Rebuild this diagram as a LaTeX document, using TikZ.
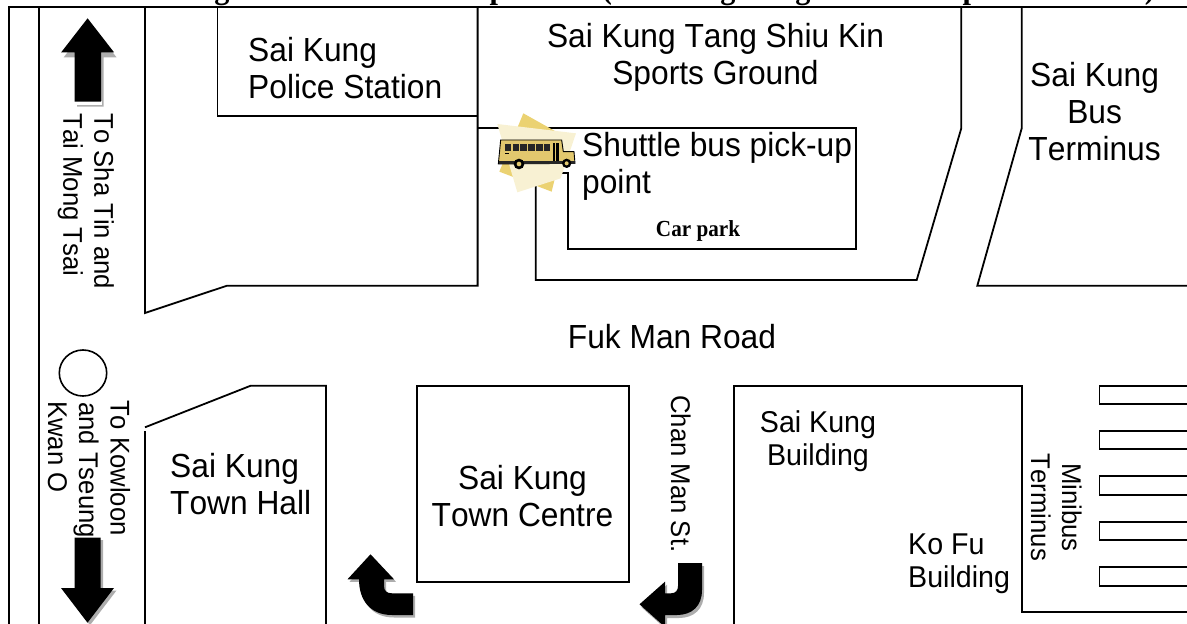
\documentclass[tikz,border=0pt]{standalone}
\usepackage{fontspec}
\setmainfont[FakeStretch=0.95,Kerning=Off]{Liberation Sans}
\newfontfamily\timesfont[FakeStretch=0.92]{Liberation Serif}
\definecolor{palestar}{HTML}{F8F1D3}
\definecolor{goldstar}{HTML}{EBD272}
\definecolor{busbody}{HTML}{E2C86E}
\tikzset{
  road/.style={draw=black,line width=1.8pt,line join=miter},
  big/.style={inner sep=0pt,font=\fontsize{33.4}{36.7}\selectfont},
  mid/.style={inner sep=0pt,font=\fontsize{30.1}{33}\selectfont},
  small/.style={inner sep=0pt,font=\fontsize{27.05}{31}\selectfont,rotate=-90},
  titlebit/.style={inner sep=0pt,anchor=base,font=\timesfont\bfseries\fontsize{33}{36}\selectfont},
  shade/.style={fill=black!32,draw=none},
  solid arrow/.style={fill=black,draw=none},
}
\begin{document}
\begin{tikzpicture}[x=1pt,y=-1pt]
\useasboundingbox (0,0) rectangle (1187,624);
\clip (0,0) rectangle (1187,624);
% clipped title descenders
\node[titlebit] (t1) at (222,-2) {g};
\node[titlebit] (t2) at (498,-2) {p};
\node[titlebit] (t3) at (607,-2) {(};
\node[titlebit] (t4) at (728,-2) {g};
\node[titlebit] (t5) at (803,-2) {g};
\node[titlebit] (t6) at (971,-2) {p};
\node[titlebit] (t7) at (1150,-2) {)};
% frame and roads
\draw[road] (9.2,630) -- (9.2,7) -- (1190,7);
\draw[road] (38.7,7) -- (38.7,630);
\draw[road] (145,7) -- (145,313) -- (227,285.7) -- (477.6,285.7) -- (477.6,7);
\draw[road] (217.4,7) -- (217.4,116.3) -- (477.6,116.3);
\draw[road] (477.6,128) -- (855.8,128) -- (855.8,249.3) -- (568.3,249.3) -- (568.3,173) -- (560,173);
\draw[road] (535.8,185) -- (535.8,280) -- (916.7,280) -- (961.3,128.3) -- (961.3,7);
\draw[road] (1021.8,7) -- (1021.8,128) -- (977.3,285.7) -- (1190,285.7);
\draw[road] (145,431) -- (145,630);
\draw[road] (145,427.3) -- (250.7,385.7) -- (326,385.7) -- (326,630);
\draw[road] (416.8,385.7) rectangle (629.2,582);
\draw[road] (734.3,630) -- (734.3,385.7) -- (1021.8,385.7) -- (1021.8,612.3) -- (1190,612.3);
\foreach \a/\b in {385.7/404.3,431/449.3,476/494.7,521.7/540.3,566.7/585.7}
  \draw[road] (1192,\a) -- (1099.5,\a) -- (1099.5,\b) -- (1192,\b);
\draw[line width=1.6pt] (83,373) ellipse [x radius=23.7,y radius=23];
% up arrow
\path[shade,shift={(2.5,5)}] (87.6,18.3) -- (114,52.3) -- (101,52.3) -- (101,101.7) -- (74.6,101.7) -- (74.6,52.3) -- (61.2,52.3) -- cycle;
\fill[white] (74.6,101) rectangle (102,105);
\path[solid arrow] (87.6,18.3) -- (114,52.3) -- (101,52.3) -- (101,101.7) -- (74.6,101.7) -- (74.6,52.3) -- (61.2,52.3) -- cycle;
% down arrow
\path[shade,shift={(2.5,2.5)}] (87.5,622.7) -- (114,588) -- (100.7,588) -- (100.7,537.7) -- (74.7,537.7) -- (74.7,588) -- (61,588) -- cycle;
\path[solid arrow] (87.5,622.7) -- (114,588) -- (100.7,588) -- (100.7,537.7) -- (74.7,537.7) -- (74.7,588) -- (61,588) -- cycle;
% bent arrow left
\path[shade,shift={(2,2.5)}] (370.5,554.3) -- (394,579.3) -- (384,579.3) -- (384,586) .. controls (384,591) and (387,593.3) .. (392,593.3) -- (413,593.3) -- (413,615) -- (392,615) .. controls (370,615) and (359,600) .. (359,579.3) -- (347.5,579.3) -- cycle;
\path[solid arrow] (370.5,554.3) -- (394,579.3) -- (384,579.3) -- (384,586) .. controls (384,591) and (387,593.3) .. (392,593.3) -- (413,593.3) -- (413,615) -- (392,615) .. controls (370,615) and (359,600) .. (359,579.3) -- (347.5,579.3) -- cycle;
% bent arrow right
\path[shade,shift={(2,3)}] (678,563) -- (702,563) -- (702,590) .. controls (702,606) and (692,615) .. (677,615) -- (665,615) -- (665,627) -- (639.5,604.3) -- (665,581.7) -- (665,593.3) -- (671,593.3) .. controls (676,593.3) and (678,590) .. (678,586) -- cycle;
\path[solid arrow] (678,563) -- (702,563) -- (702,590) .. controls (702,606) and (692,615) .. (677,615) -- (665,615) -- (665,627) -- (639.5,604.3) -- (665,581.7) -- (665,593.3) -- (671,593.3) .. controls (676,593.3) and (678,590) .. (678,586) -- cycle;
% bus clip-art
\begin{scope}[shift={(470,100)},x=0.3333pt,y=-0.3333pt]
\fill[goldstar] (160,40) -- (285,110) -- (245,275) -- (88,215) -- cycle;
\fill[palestar] (82,72) -- (318,100) -- (272,235) -- (142,277) -- cycle;
\draw[line width=0.9pt,fill=busbody] (92,120) -- (275,120) -- (280,155) -- (312,155) -- (315,190) -- (85,192) -- cycle;
\fill[black!85] (88,182) rectangle (316,192);
\foreach \l/\r in {105/122,128/147,151/170,175/195,199/218,222/241}
  \fill[black!85] (\l,133) rectangle (\r,153);
\fill[black] (248,130) rectangle (254,184);
\fill[black] (259,130) rectangle (266,184);
\fill[black] (105,158) rectangle (116,161);
\fill[black] (147,192) circle [radius=16];
\fill[busbody] (147,192) circle [radius=7];
\fill[black] (290,190) circle [radius=14];
\fill[busbody] (290,190) circle [radius=6];
\end{scope}
% labels
\node[big,align=left,anchor=base west] (police) at (248,98.3) {Sai Kung\\Police Station};
\node[big,align=center,anchor=base] (sports) at (715.5,84) {Sai Kung Tang Shiu Kin\\Sports Ground};
\node[big,align=center,anchor=base] (busterm) at (1094.6,160) {Sai Kung\\Bus\\Terminus};
\node[big,align=left,anchor=base west] (pickup) at (582,193.3) {Shuttle bus pick-up\\point};
\node[inner sep=0pt,anchor=base,font=\timesfont\bfseries\fontsize{23}{24}\selectfont] (carpark) at (698,236) {Car park};
\node[big,anchor=base] (fuk) at (672,348.5) {Fuk Man Road};
\node[big,align=left,anchor=base west] (hall) at (170,514) {Sai Kung\\Town Hall};
\node[big,align=center,anchor=base] (centre) at (522.5,526.5) {Sai Kung\\Town Centre};
\node[mid,align=center,anchor=base] (skb) at (818,465.5) {Sai Kung\\Building};
\node[mid,align=left,anchor=base west] (kofu) at (908,587.8) {Ko Fu\\Building};
\node[small,anchor=base west] (sha1) at (94.3,113.3) {To Sha Tin and};
\node[small,anchor=base west] (sha2) at (63.3,113.3) {Tai Mong Tsai};
\node[small,anchor=base west] (kow1) at (110.5,400) {To Kowloon};
\node[small,anchor=base west] (kow2) at (79,402) {and Tseung};
\node[small,anchor=base west] (kow3) at (48,401) {Kwan O};
\node[small,anchor=base west] (chan) at (671,395) {Chan Man St.};
\node[small,anchor=base] (mini1) at (1062,507.5) {Minibus};
\node[small,anchor=base] (mini2) at (1031,507.5) {Terminus};
\end{tikzpicture}
\end{document}
